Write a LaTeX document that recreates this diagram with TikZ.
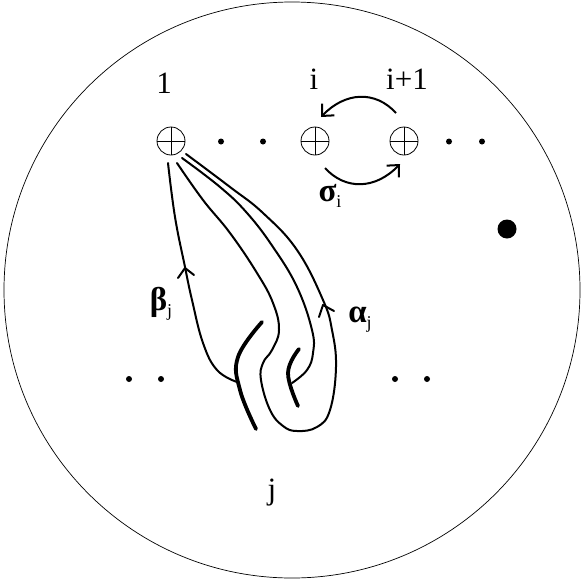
\documentclass[tikz,border=0pt]{standalone}
\usepackage{fontspec}
\setmainfont{Liberation Serif}
\usetikzlibrary{positioning,arrows.meta}
\tikzset{
  puncture/.style={circle,draw,line width=0.8pt,minimum size=28pt,inner sep=0pt},
  dotmark/.style={circle,fill=black,minimum size=6pt,inner sep=0pt},
  strand/.style={line width=2pt,line cap=round,line join=round},
  overstrand/.style={line width=3.8pt,line cap=round},
  swap/.style={line width=2pt,-{Straight Barb[length=9pt,width=17pt]}},
  lab/.style={inner sep=0pt,font=\fontsize{31}{31}\selectfont},
  greek/.style={inner sep=0pt,font=\fontsize{33}{33}\selectfont\bfseries}
}
\newcommand{\subj}[1]{\raisebox{-6pt}{\fontsize{18}{18}\selectfont\mdseries #1}}
\begin{document}
\begin{tikzpicture}[x=1pt,y=-1pt]
        \useasboundingbox (0,0) rectangle (581,579);

        % Disk
        \draw[line width=0.7pt] (292,290) circle (288);

        % Punctures
        \node[puncture] (p1) at (171,141) {};
        \node[puncture] (p2) at (315,141) {};
        \node[puncture] (p3) at (404,141) {};
        \foreach \n in {p1,p2,p3} {
            \draw[line width=0.9pt] (\n.north) -- (\n.south);
            \draw[line width=0.9pt] (\n.west) -- (\n.east);
        }

        % Dots
        \node[dotmark] (d1) at (221,141.5) {};
        \node[dotmark] (d2) at (263,141.5) {};
        \node[dotmark] (d3) at (449,141.5) {};
        \node[dotmark] (d4) at (482,141.5) {};
        \node[dotmark] (d5) at (129,379) {};
        \node[dotmark] (d6) at (161,379) {};
        \node[dotmark] (d7) at (395,379) {};
        \node[dotmark] (d8) at (427,379) {};
        \node[circle,fill=black,minimum size=19pt,inner sep=0pt] (spot) at (507,229) {};

        % Labels
        \node[lab] (l1) at (164,83) {1};
        \node[lab] (li) at (314,79) {i};
        \node[lab] (lnext) at (407,79) {i+1};
        \node[lab] (lj) at (272,493) {j};
        \node[greek] (sigma) at (330,196) {σ\subj{i}};
        \node[greek] (beta) at (161,304) {β\subj{j}};
        \node[greek] (alpha) at (360,320) {α\subj{j}};

        % Half twist
        \draw[swap] ([shift={(-8,-28)}]p3.center) .. controls ([shift={(-29,-51)}]p3.center) and ([shift={(30,-49)}]p2.center) .. ([shift={(6,-24)}]p2.center);
        \draw[swap] ([shift={(10,27)}]p2.center) .. controls ([shift={(30,49)}]p2.center) and ([shift={(-29,49)}]p3.center) .. ([shift={(-4,23)}]p3.center);

        % Beta
        \draw[strand] plot[smooth,tension=0.7] coordinates {(168,163) (175,217) (185,267) (192,300) (203,343) (217,370) (237,382)};
        \draw[strand] (178,278) -- (185,268) -- (194,275);

        % Alpha
        \draw[strand] plot[smooth,tension=0.7] coordinates {(177,163) (203,200) (230,233) (257,273) (273,303) (279,330) (272,350) (263,363) (261,380) (270,410) (283,426) (297,431) (317,427) (330,410) (336,367) (332,330) (323,300) (297,250) (263,213) (230,187) (186,154)};
        \draw[strand] plot[smooth,tension=0.7] coordinates {(182,158) (220,187) (247,213) (273,247) (297,287) (312,330) (313,353) (307,370) (292,383)};
        \draw[strand] (319,317) -- (323,305) -- (334,311);

        % Over strands
        \draw[overstrand] plot[smooth,tension=0.7] coordinates {(262,322) (238,357) (240,390) (256,429)};
        \draw[overstrand] plot[smooth,tension=0.7] coordinates {(299,349) (288,373) (298,406)};
\end{tikzpicture}
\end{document}
